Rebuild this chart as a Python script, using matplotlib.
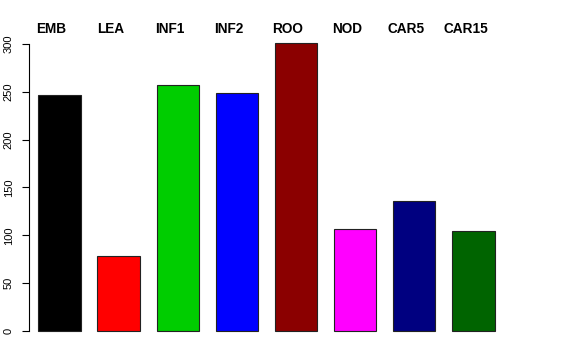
import matplotlib
matplotlib.use("Agg")
import matplotlib.pyplot as plt

categories = ["EMB", "LEA", "INF1", "INF2", "ROO", "NOD", "CAR5", "CAR15"]
values = [247, 78, 257, 249, 301, 107, 136, 105]
colors = ["#000000", "#FF0000", "#00CD00", "#0000FF", "#8B0000", "#FF00FF", "#000080", "#006400"]
yticks = [0, 50, 100, 150, 200, 250, 300]

W, H = 576, 360
fig = plt.figure(figsize=(W / 100, H / 100), dpi=100)
plt.rcParams['font.family'] = ['Liberation Sans', 'DejaVu Sans']

# axes in pixel coordinates
left, right, top, bottom = 29, 520, 30, 345
ax = fig.add_axes([left / W, 1 - bottom / H, (right - left) / W, (bottom - top) / H])

space = 0.4
width = 1.0
xs = [space + width / 2 + i * (space + width) for i in range(len(categories))]
ax.bar(xs, values, width=width, color=colors, edgecolor="#222222", linewidth=0.8)

px_per_unit_x = 42.25
x0 = space - (38.3 - left) / px_per_unit_x
ax.set_xlim(x0, x0 + (right - left) / px_per_unit_x)
px_per_unit_y = (331 - 44) / 300
ax.set_ylim(-(bottom - 331) / px_per_unit_y, 300 + (44 - top) / px_per_unit_y)

label_shift = 8 / px_per_unit_x
for x, c in zip(xs, categories):
    ax.text(x - label_shift, 300 + (44 - 29.5) / px_per_unit_y, c, ha="center", va="center",
            fontsize=9.8, fontweight="bold", clip_on=False)

for s in ["top", "right", "bottom"]:
    ax.spines[s].set_visible(False)
ax.spines["left"].set_bounds(0, 300)
ax.spines["left"].set_linewidth(0.8)
ax.set_xticks([])
ax.set_yticks(yticks)
ax.set_yticklabels([str(t) for t in yticks], rotation=90, va="center", fontsize=8)
ax.tick_params(axis="y", length=5, width=0.8, pad=6)

fig.savefig("out.png", dpi=100)
